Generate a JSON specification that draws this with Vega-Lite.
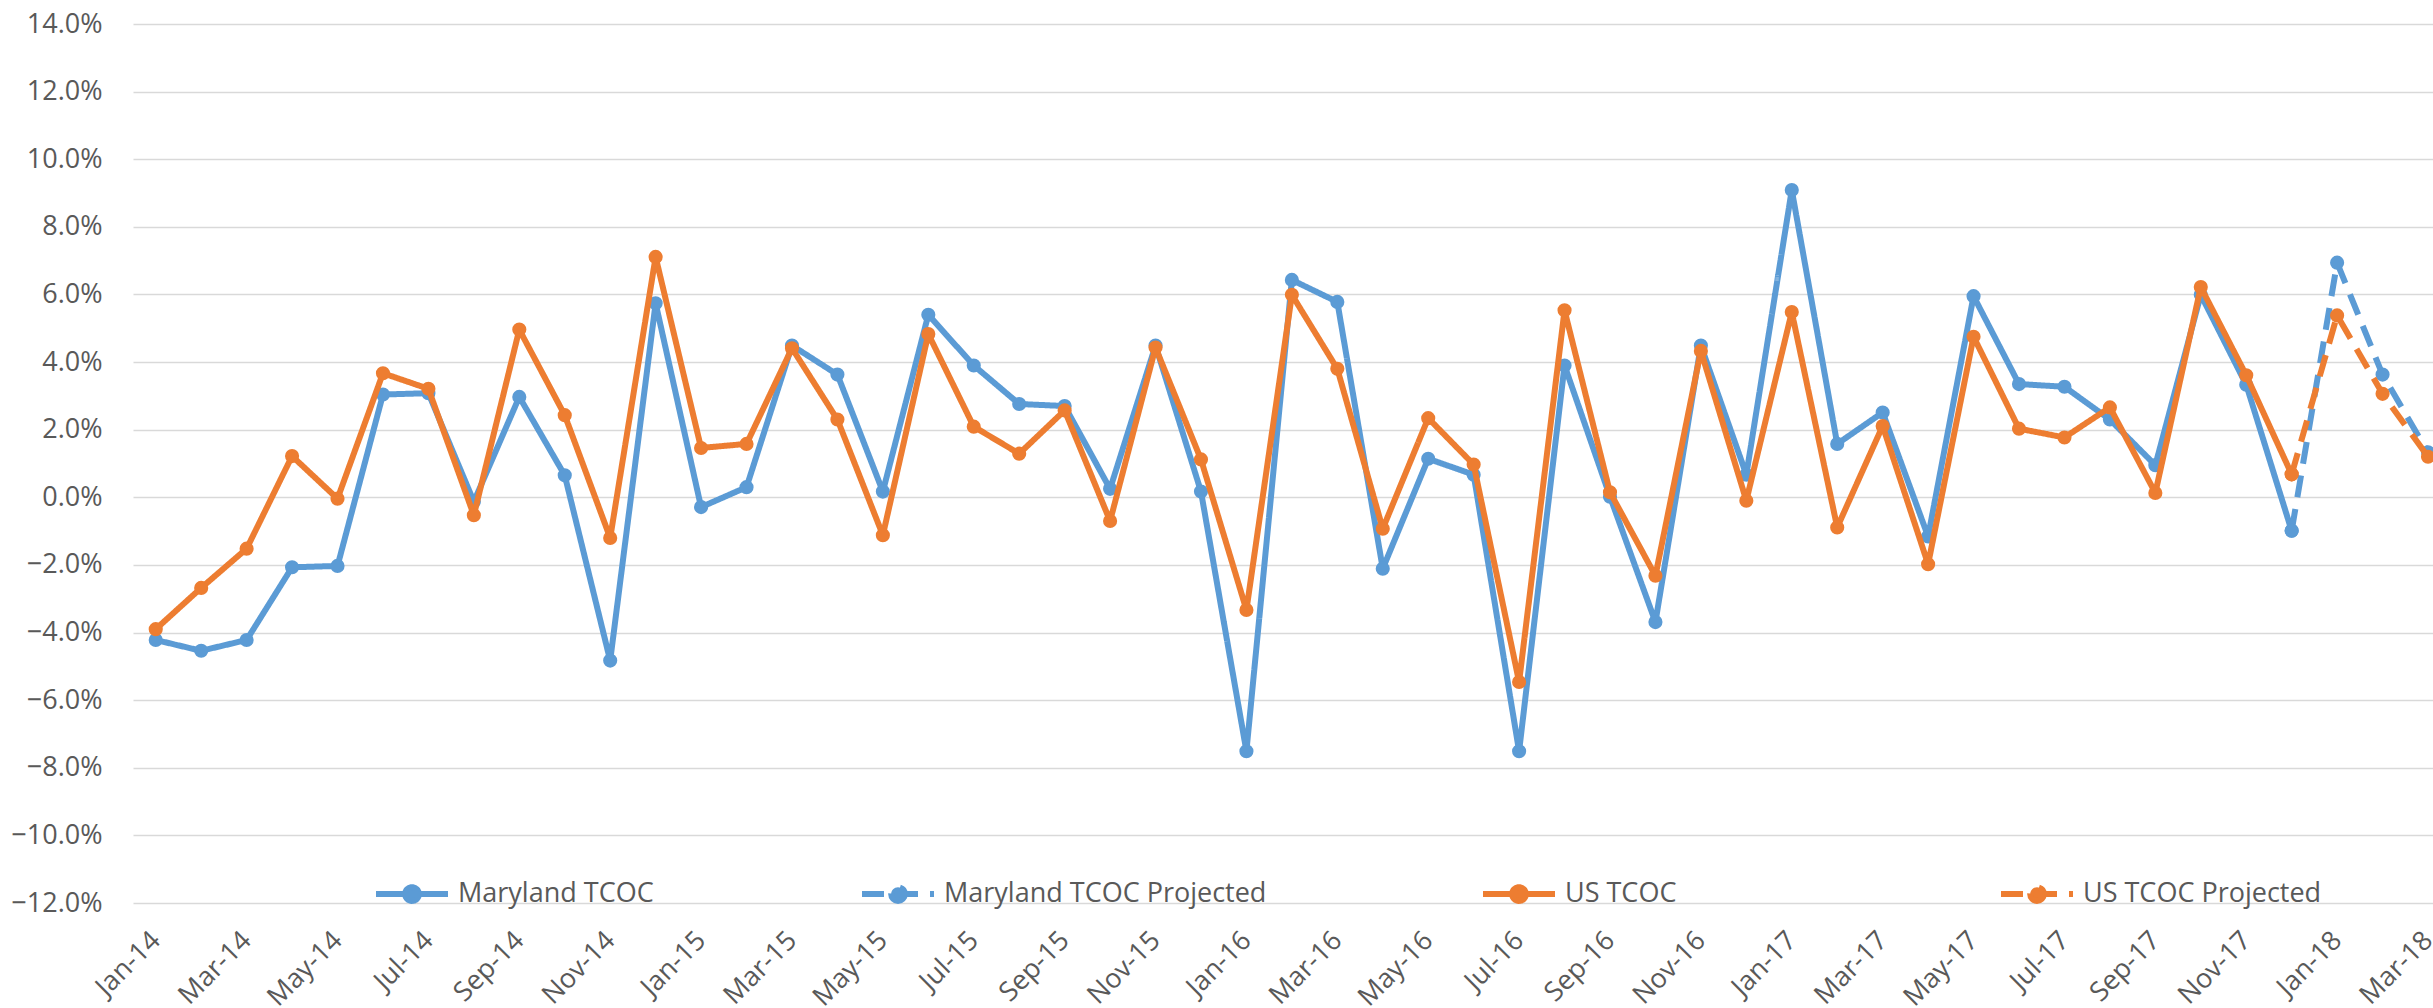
{
  "$schema": "https://vega.github.io/schema/vega-lite/v6.json",
  "width": 2300,
  "height": 879,
  "autosize": {"type": "none"},
  "padding": {"left": 133, "top": 24, "right": 0, "bottom": 105},
  "background": "white",
  "config": {
    "font": "Open Sans",
    "view": {"stroke": null}
  },
  "datasets": {
    "maryland": [
      {"month": "Jan-14", "series": "Maryland TCOC", "value": -4.22},
      {"month": "Feb-14", "series": "Maryland TCOC", "value": -4.54},
      {"month": "Mar-14", "series": "Maryland TCOC", "value": -4.22},
      {"month": "Apr-14", "series": "Maryland TCOC", "value": -2.07},
      {"month": "May-14", "series": "Maryland TCOC", "value": -2.03},
      {"month": "Jun-14", "series": "Maryland TCOC", "value": 3.04},
      {"month": "Jul-14", "series": "Maryland TCOC", "value": 3.08},
      {"month": "Aug-14", "series": "Maryland TCOC", "value": -0.13},
      {"month": "Sep-14", "series": "Maryland TCOC", "value": 2.97},
      {"month": "Oct-14", "series": "Maryland TCOC", "value": 0.65},
      {"month": "Nov-14", "series": "Maryland TCOC", "value": -4.83},
      {"month": "Dec-14", "series": "Maryland TCOC", "value": 5.74},
      {"month": "Jan-15", "series": "Maryland TCOC", "value": -0.29},
      {"month": "Feb-15", "series": "Maryland TCOC", "value": 0.30},
      {"month": "Mar-15", "series": "Maryland TCOC", "value": 4.49},
      {"month": "Apr-15", "series": "Maryland TCOC", "value": 3.63},
      {"month": "May-15", "series": "Maryland TCOC", "value": 0.17},
      {"month": "Jun-15", "series": "Maryland TCOC", "value": 5.40},
      {"month": "Jul-15", "series": "Maryland TCOC", "value": 3.90},
      {"month": "Aug-15", "series": "Maryland TCOC", "value": 2.76},
      {"month": "Sep-15", "series": "Maryland TCOC", "value": 2.70},
      {"month": "Oct-15", "series": "Maryland TCOC", "value": 0.25},
      {"month": "Nov-15", "series": "Maryland TCOC", "value": 4.49},
      {"month": "Dec-15", "series": "Maryland TCOC", "value": 0.17},
      {"month": "Jan-16", "series": "Maryland TCOC", "value": -7.51},
      {"month": "Feb-16", "series": "Maryland TCOC", "value": 6.43},
      {"month": "Mar-16", "series": "Maryland TCOC", "value": 5.78},
      {"month": "Apr-16", "series": "Maryland TCOC", "value": -2.11},
      {"month": "May-16", "series": "Maryland TCOC", "value": 1.14},
      {"month": "Jun-16", "series": "Maryland TCOC", "value": 0.67},
      {"month": "Jul-16", "series": "Maryland TCOC", "value": -7.51},
      {"month": "Aug-16", "series": "Maryland TCOC", "value": 3.90},
      {"month": "Sep-16", "series": "Maryland TCOC", "value": 0.02},
      {"month": "Oct-16", "series": "Maryland TCOC", "value": -3.69},
      {"month": "Nov-16", "series": "Maryland TCOC", "value": 4.49},
      {"month": "Dec-16", "series": "Maryland TCOC", "value": 0.67},
      {"month": "Jan-17", "series": "Maryland TCOC", "value": 9.09},
      {"month": "Feb-17", "series": "Maryland TCOC", "value": 1.58},
      {"month": "Mar-17", "series": "Maryland TCOC", "value": 2.51},
      {"month": "Apr-17", "series": "Maryland TCOC", "value": -1.16},
      {"month": "May-17", "series": "Maryland TCOC", "value": 5.95},
      {"month": "Jun-17", "series": "Maryland TCOC", "value": 3.35},
      {"month": "Jul-17", "series": "Maryland TCOC", "value": 3.27},
      {"month": "Aug-17", "series": "Maryland TCOC", "value": 2.30},
      {"month": "Sep-17", "series": "Maryland TCOC", "value": 0.95},
      {"month": "Oct-17", "series": "Maryland TCOC", "value": 5.99},
      {"month": "Nov-17", "series": "Maryland TCOC", "value": 3.33},
      {"month": "Dec-17", "series": "Maryland TCOC", "value": -0.99},
      {"month": "Dec-17", "series": "Maryland TCOC Projected", "value": -0.99},
      {"month": "Jan-18", "series": "Maryland TCOC Projected", "value": 6.94},
      {"month": "Feb-18", "series": "Maryland TCOC Projected", "value": 3.63},
      {"month": "Mar-18", "series": "Maryland TCOC Projected", "value": 1.33}
    ],
    "us": [
      {"month": "Jan-14", "series": "US TCOC", "value": -3.90},
      {"month": "Feb-14", "series": "US TCOC", "value": -2.68},
      {"month": "Mar-14", "series": "US TCOC", "value": -1.52},
      {"month": "Apr-14", "series": "US TCOC", "value": 1.22},
      {"month": "May-14", "series": "US TCOC", "value": -0.04},
      {"month": "Jun-14", "series": "US TCOC", "value": 3.67},
      {"month": "Jul-14", "series": "US TCOC", "value": 3.21},
      {"month": "Aug-14", "series": "US TCOC", "value": -0.53},
      {"month": "Sep-14", "series": "US TCOC", "value": 4.96},
      {"month": "Oct-14", "series": "US TCOC", "value": 2.43},
      {"month": "Nov-14", "series": "US TCOC", "value": -1.20},
      {"month": "Dec-14", "series": "US TCOC", "value": 7.11},
      {"month": "Jan-15", "series": "US TCOC", "value": 1.46},
      {"month": "Feb-15", "series": "US TCOC", "value": 1.58},
      {"month": "Mar-15", "series": "US TCOC", "value": 4.41},
      {"month": "Apr-15", "series": "US TCOC", "value": 2.30},
      {"month": "May-15", "series": "US TCOC", "value": -1.12},
      {"month": "Jun-15", "series": "US TCOC", "value": 4.83},
      {"month": "Jul-15", "series": "US TCOC", "value": 2.09},
      {"month": "Aug-15", "series": "US TCOC", "value": 1.29},
      {"month": "Sep-15", "series": "US TCOC", "value": 2.57},
      {"month": "Oct-15", "series": "US TCOC", "value": -0.70},
      {"month": "Nov-15", "series": "US TCOC", "value": 4.43},
      {"month": "Dec-15", "series": "US TCOC", "value": 1.12},
      {"month": "Jan-16", "series": "US TCOC", "value": -3.33},
      {"month": "Feb-16", "series": "US TCOC", "value": 5.99},
      {"month": "Mar-16", "series": "US TCOC", "value": 3.80},
      {"month": "Apr-16", "series": "US TCOC", "value": -0.93},
      {"month": "May-16", "series": "US TCOC", "value": 2.34},
      {"month": "Jun-16", "series": "US TCOC", "value": 0.97},
      {"month": "Jul-16", "series": "US TCOC", "value": -5.46},
      {"month": "Aug-16", "series": "US TCOC", "value": 5.53},
      {"month": "Sep-16", "series": "US TCOC", "value": 0.15},
      {"month": "Oct-16", "series": "US TCOC", "value": -2.32},
      {"month": "Nov-16", "series": "US TCOC", "value": 4.33},
      {"month": "Dec-16", "series": "US TCOC", "value": -0.10},
      {"month": "Jan-17", "series": "US TCOC", "value": 5.48},
      {"month": "Feb-17", "series": "US TCOC", "value": -0.89},
      {"month": "Mar-17", "series": "US TCOC", "value": 2.11},
      {"month": "Apr-17", "series": "US TCOC", "value": -1.98},
      {"month": "May-17", "series": "US TCOC", "value": 4.75},
      {"month": "Jun-17", "series": "US TCOC", "value": 2.03},
      {"month": "Jul-17", "series": "US TCOC", "value": 1.77},
      {"month": "Aug-17", "series": "US TCOC", "value": 2.66},
      {"month": "Sep-17", "series": "US TCOC", "value": 0.13},
      {"month": "Oct-17", "series": "US TCOC", "value": 6.22},
      {"month": "Nov-17", "series": "US TCOC", "value": 3.61},
      {"month": "Dec-17", "series": "US TCOC", "value": 0.68},
      {"month": "Dec-17", "series": "US TCOC Projected", "value": 0.68},
      {"month": "Jan-18", "series": "US TCOC Projected", "value": 5.38},
      {"month": "Feb-18", "series": "US TCOC Projected", "value": 3.06},
      {"month": "Mar-18", "series": "US TCOC Projected", "value": 1.20}
    ]
  },
  "encoding": {
    "x": {
      "field": "month",
      "type": "ordinal",
      "scale": {
        "type": "point",
        "padding": 0.305,
        "align": 0.82,
        "domain": ["Jan-14","Feb-14","Mar-14","Apr-14","May-14","Jun-14","Jul-14","Aug-14","Sep-14","Oct-14","Nov-14","Dec-14",
                   "Jan-15","Feb-15","Mar-15","Apr-15","May-15","Jun-15","Jul-15","Aug-15","Sep-15","Oct-15","Nov-15","Dec-15",
                   "Jan-16","Feb-16","Mar-16","Apr-16","May-16","Jun-16","Jul-16","Aug-16","Sep-16","Oct-16","Nov-16","Dec-16",
                   "Jan-17","Feb-17","Mar-17","Apr-17","May-17","Jun-17","Jul-17","Aug-17","Sep-17","Oct-17","Nov-17","Dec-17",
                   "Jan-18","Feb-18","Mar-18"]
      },
      "axis": {
        "title": null,
        "values": ["Jan-14","Mar-14","May-14","Jul-14","Sep-14","Nov-14","Jan-15","Mar-15","May-15","Jul-15","Sep-15","Nov-15",
                   "Jan-16","Mar-16","May-16","Jul-16","Sep-16","Nov-16","Jan-17","Mar-17","May-17","Jul-17","Sep-17","Nov-17",
                   "Jan-18","Mar-18"],
        "labelAngle": -45,
        "labelAlign": "right",
        "labelBaseline": "middle",
        "labelPadding": 33,
        "labelFontSize": 27,
        "labelFont": "Open Sans",
        "labelColor": "#595959",
        "labelOverlap": false,
        "labelBound": false,
        "ticks": false,
        "tickSize": 0,
        "domain": false,
        "grid": false
      }
    },
    "y": {
      "field": "value",
      "type": "quantitative",
      "scale": {"domain": [-12, 14], "nice": false, "zero": false},
      "axis": {
        "title": null,
        "values": [-12,-10,-8,-6,-4,-2,0,2,4,6,8,10,12,14],
        "labelExpr": "format(datum.value, '.1f') + '%'",
        "labelPadding": 31,
        "labelFontSize": 27,
        "labelFont": "Open Sans",
        "labelColor": "#595959",
        "ticks": false,
        "tickSize": 0,
        "domain": false,
        "grid": true,
        "gridColor": "#D9D9D9",
        "gridWidth": 1.6
      }
    }
  },
  "layer": [
    {
      "data": {"name": "maryland"},
      "layer": [
        {
          "mark": {"type": "line", "strokeWidth": 6, "strokeJoin": "round"},
          "encoding": {
            "color": {
              "field": "series",
              "type": "nominal",
              "scale": {"domain": ["Maryland TCOC", "Maryland TCOC Projected"], "range": ["#5B9BD5", "#5B9BD5"]},
              "legend": {
                "title": null,
                "orient": "none",
                "direction": "horizontal",
                "legendX": 240,
                "legendY": 831,
                "padding": 0,
                "symbolType": "M-1,0L1,0M0.19,0A0.19,0.19,0,1,1,-0.19,0A0.19,0.19,0,1,1,0.19,0",
                "symbolSize": 5184,
                "symbolStrokeWidth": 6,
                "symbolFillColor": "#5B9BD5",
                "labelFontSize": 27,
                "labelFont": "Open Sans",
                "labelColor": "#595959",
                "labelOffset": 7,
                "labelLimit": 1000,
                "columnPadding": 196
              }
            },
            "strokeDash": {
              "field": "series",
              "type": "nominal",
              "scale": {"domain": ["Maryland TCOC", "Maryland TCOC Projected"], "range": [[1, 0], [22, 12]]},
              "legend": {
                "title": null,
                "orient": "none",
                "direction": "horizontal",
                "legendX": 240,
                "legendY": 831,
                "padding": 0,
                "symbolType": "M-1,0L1,0M0.19,0A0.19,0.19,0,1,1,-0.19,0A0.19,0.19,0,1,1,0.19,0",
                "symbolSize": 5184,
                "symbolStrokeWidth": 6,
                "symbolFillColor": "#5B9BD5",
                "labelFontSize": 27,
                "labelFont": "Open Sans",
                "labelColor": "#595959",
                "labelOffset": 7,
                "labelLimit": 1000,
                "columnPadding": 196
              }
            }
          }
        },
        {
          "mark": {"type": "point", "filled": true, "size": 200, "opacity": 1, "color": "#5B9BD5"}
        }
      ]
    },
    {
      "data": {"name": "us"},
      "layer": [
        {
          "mark": {"type": "line", "strokeWidth": 6, "strokeJoin": "round"},
          "encoding": {
            "color": {
              "field": "series",
              "type": "nominal",
              "scale": {"domain": ["US TCOC", "US TCOC Projected"], "range": ["#ED7D31", "#ED7D31"]},
              "legend": {
                "title": null,
                "orient": "none",
                "direction": "horizontal",
                "legendX": 1347,
                "legendY": 831,
                "padding": 0,
                "symbolType": "M-1,0L1,0M0.19,0A0.19,0.19,0,1,1,-0.19,0A0.19,0.19,0,1,1,0.19,0",
                "symbolSize": 5184,
                "symbolStrokeWidth": 6,
                "symbolFillColor": "#ED7D31",
                "labelFontSize": 27,
                "labelFont": "Open Sans",
                "labelColor": "#595959",
                "labelOffset": 7,
                "labelLimit": 1000,
                "columnPadding": 312
              }
            },
            "strokeDash": {
              "field": "series",
              "type": "nominal",
              "scale": {"domain": ["US TCOC", "US TCOC Projected"], "range": [[1, 0], [22, 12]]},
              "legend": {
                "title": null,
                "orient": "none",
                "direction": "horizontal",
                "legendX": 1347,
                "legendY": 831,
                "padding": 0,
                "symbolType": "M-1,0L1,0M0.19,0A0.19,0.19,0,1,1,-0.19,0A0.19,0.19,0,1,1,0.19,0",
                "symbolSize": 5184,
                "symbolStrokeWidth": 6,
                "symbolFillColor": "#ED7D31",
                "labelFontSize": 27,
                "labelFont": "Open Sans",
                "labelColor": "#595959",
                "labelOffset": 7,
                "labelLimit": 1000,
                "columnPadding": 312
              }
            }
          }
        },
        {
          "mark": {"type": "point", "filled": true, "size": 200, "opacity": 1, "color": "#ED7D31"}
        }
      ]
    }
  ],
  "resolve": {"scale": {"color": "independent", "strokeDash": "independent"}}
}
